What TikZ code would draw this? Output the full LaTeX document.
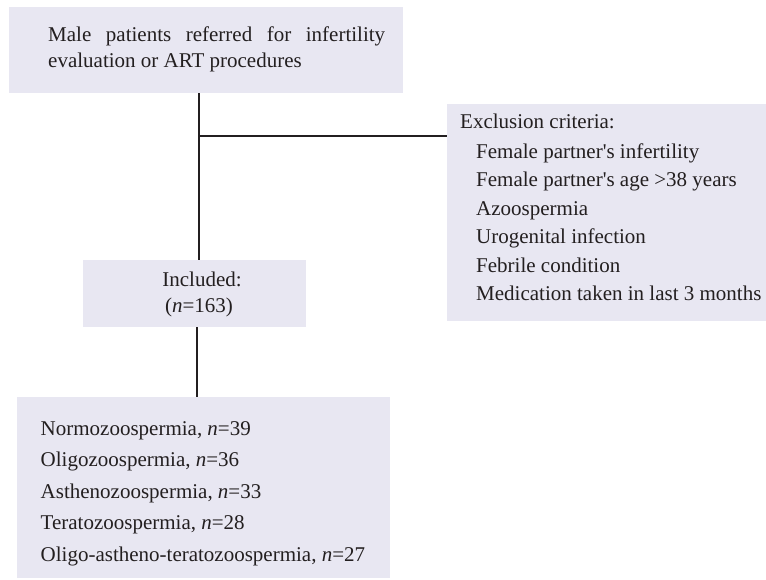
\documentclass[tikz,border=0pt]{standalone}
\usepackage{fontspec}
\setmainfont{Liberation Serif}[Ligatures=TeXOff]
\definecolor{boxfill}{RGB}{232,231,242}
\definecolor{lineclr}{RGB}{35,31,32}
\begin{document}
\begin{tikzpicture}[x=1pt,y=-1pt,
  box/.style={fill=boxfill,draw=none,inner sep=0pt,rectangle},
  conn/.style={draw=lineclr,line width=2pt},
  txt/.style={inner sep=0pt,anchor=base west,font=\fontsize{21}{25}\selectfont,text=lineclr},
  ctxt/.style={inner sep=0pt,anchor=base,font=\fontsize{21}{25}\selectfont,text=lineclr}]
\useasboundingbox (0,0) rectangle (766,579);
% boxes
\node[box,minimum width=394pt,minimum height=86pt] (top) at (206,50) {};
\node[box,minimum width=319pt,minimum height=217pt] (excl) at (606.5,212.5) {};
\node[box,minimum width=223pt,minimum height=67pt] (incl) at (194.5,293.5) {};
\node[box,minimum width=373pt,minimum height=181pt] (fin) at (203.5,487.5) {};
% texts
\node[txt] (t1) at (48,41) {\makebox[337pt][s]{Male patients referred for infertility}};
\node[txt] (t2) at (48,67) {evaluation or ART procedures};
\node[txt] (e0) at (460,128) {Exclusion criteria:};
\node[txt] (e1) at (476,158) {Female partner's infertility};
\node[txt] (e2) at (476,186.5) {Female partner's age >38 years};
\node[txt] (e3) at (476,215) {Azoospermia};
\node[txt] (e4) at (476,243.5) {Urogenital infection};
\node[txt] (e5) at (476,272) {Febrile condition};
\node[txt] (e6) at (476,300) {Medication taken in last 3 months};
\node[ctxt] (i1) at (202,286.5) {Included:};
\node[ctxt] (i2) at (199,312.5) {(\textit{n}=163)};
\node[txt] (f1) at (40.5,435) {Normozoospermia, \textit{n}=39};
\node[txt] (f2) at (40.5,466.5) {Oligozoospermia, \textit{n}=36};
\node[txt] (f3) at (40.5,498) {Asthenozoospermia, \textit{n}=33};
\node[txt] (f4) at (40.5,529.5) {Teratozoospermia, \textit{n}=28};
\node[txt] (f5) at (40.5,561) {Oligo-astheno-teratozoospermia, \textit{n}=27};
% connectors
\coordinate (j) at (199,136);
\coordinate (k) at (197,360);
\draw[conn] (top.south -| j) -- (incl.north -| j);
\draw[conn] (j) -- (excl.west |- j);
\draw[conn] (incl.south -| k) -- (fin.north -| k);
\end{tikzpicture}
\end{document}
